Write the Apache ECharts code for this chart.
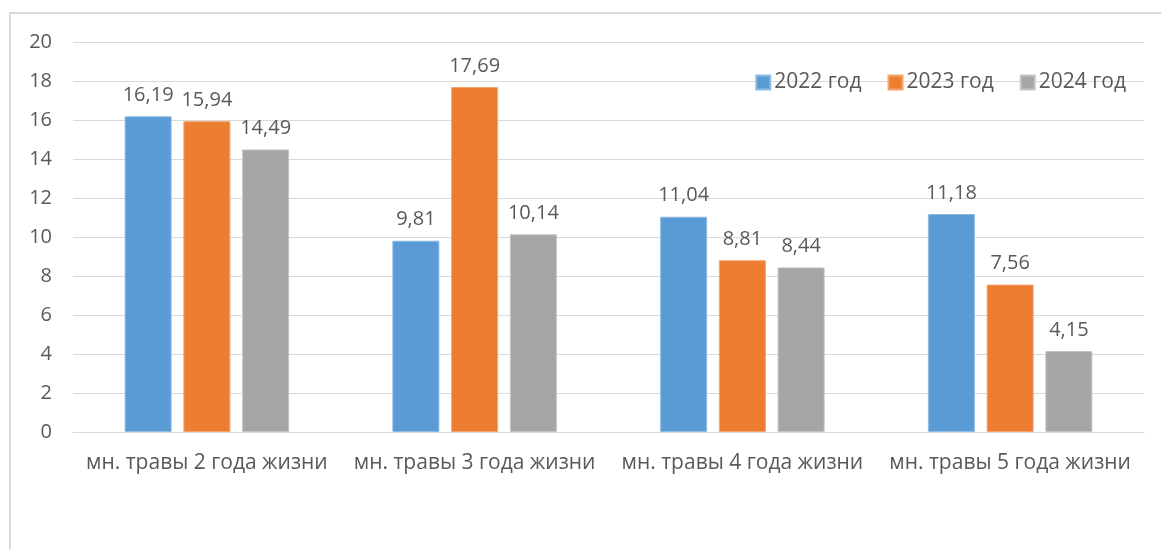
<!DOCTYPE html>
<html>
<head>
<meta charset="utf-8">
<script src="https://cdn.jsdelivr.net/npm/echarts@6/dist/echarts.min.js"></script>
<style>
  html, body { margin: 0; padding: 0; background: #fff; }
  #frame { position: absolute; left: 9px; top: 12px; width: 1160px; height: 545px;
           border-left: 2px solid #D9D9D9; border-top: 2px solid #D9D9D9; box-sizing: border-box; }
  #chart { position: absolute; left: 0; top: 0; width: 1161px; height: 549px; }
</style>
</head>
<body>
<div id="frame"></div>
<div id="chart"></div>
<script>
const categories = ['мн. травы 2 года жизни', 'мн. травы 3 года жизни', 'мн. травы 4 года жизни', 'мн. травы 5 года жизни'];
const seriesNames = ['2022 год', '2023 год', '2024 год'];
const values2022 = [16.19, 9.81, 11.04, 11.18];
const values2023 = [15.94, 17.69, 8.81, 7.56];
const values2024 = [14.49, 10.14, 8.44, 4.15];
const yTicks = [0, 2, 4, 6, 8, 10, 12, 14, 16, 18, 20];
const colors = ['#5B9BD5', '#ED7D31', '#A5A5A5'];
const borderColors = ['#8DBBE6', '#F4A46E', '#C4C4C4'];

const FONT = 'Open Sans';
const TEXT = '#595959';

const allValues = [values2022, values2023, values2024];

const chart = echarts.init(document.getElementById('chart'), null, { renderer: 'canvas' });
chart.setOption({
  animation: false,
  textStyle: { fontFamily: FONT },
  legend: {
    right: 30,
    top: 67,
    itemWidth: 14,
    itemHeight: 14,
    itemGap: 26,
    icon: 'rect',
    textStyle: { color: TEXT, fontSize: 21, fontFamily: FONT, padding: [0, 0, 0, -1] },
    data: seriesNames
  },
  grid: { left: 73, right: 17, top: 42, bottom: 117, containLabel: false },
  xAxis: {
    type: 'category',
    data: categories,
    axisLine: { show: true, lineStyle: { color: '#D9D9D9', width: 1 } },
    axisTick: { show: false },
    axisLabel: { color: TEXT, fontSize: 21, fontFamily: FONT, margin: 21, interval: 0 }
  },
  yAxis: {
    type: 'value',
    min: yTicks[0],
    max: yTicks[yTicks.length - 1],
    interval: 2,
    axisLine: { show: false },
    axisTick: { show: false },
    splitLine: { lineStyle: { color: '#D9D9D9', width: 1 } },
    axisLabel: { color: TEXT, fontSize: 20, fontFamily: FONT, margin: 21 }
  },
  series: seriesNames.map((name, i) => ({
    name: name,
    type: 'bar',
    data: allValues[i],
    barWidth: 47,
    barGap: '25%',
    itemStyle: { color: colors[i], borderColor: borderColors[i], borderWidth: 1 },
    label: {
      show: true,
      position: 'top',
      distance: 11,
      color: TEXT,
      fontSize: 20,
      fontFamily: FONT,
      formatter: p => p.value.toFixed(2).replace('.', ',')
    }
  }))
});
</script>
</body>
</html>
